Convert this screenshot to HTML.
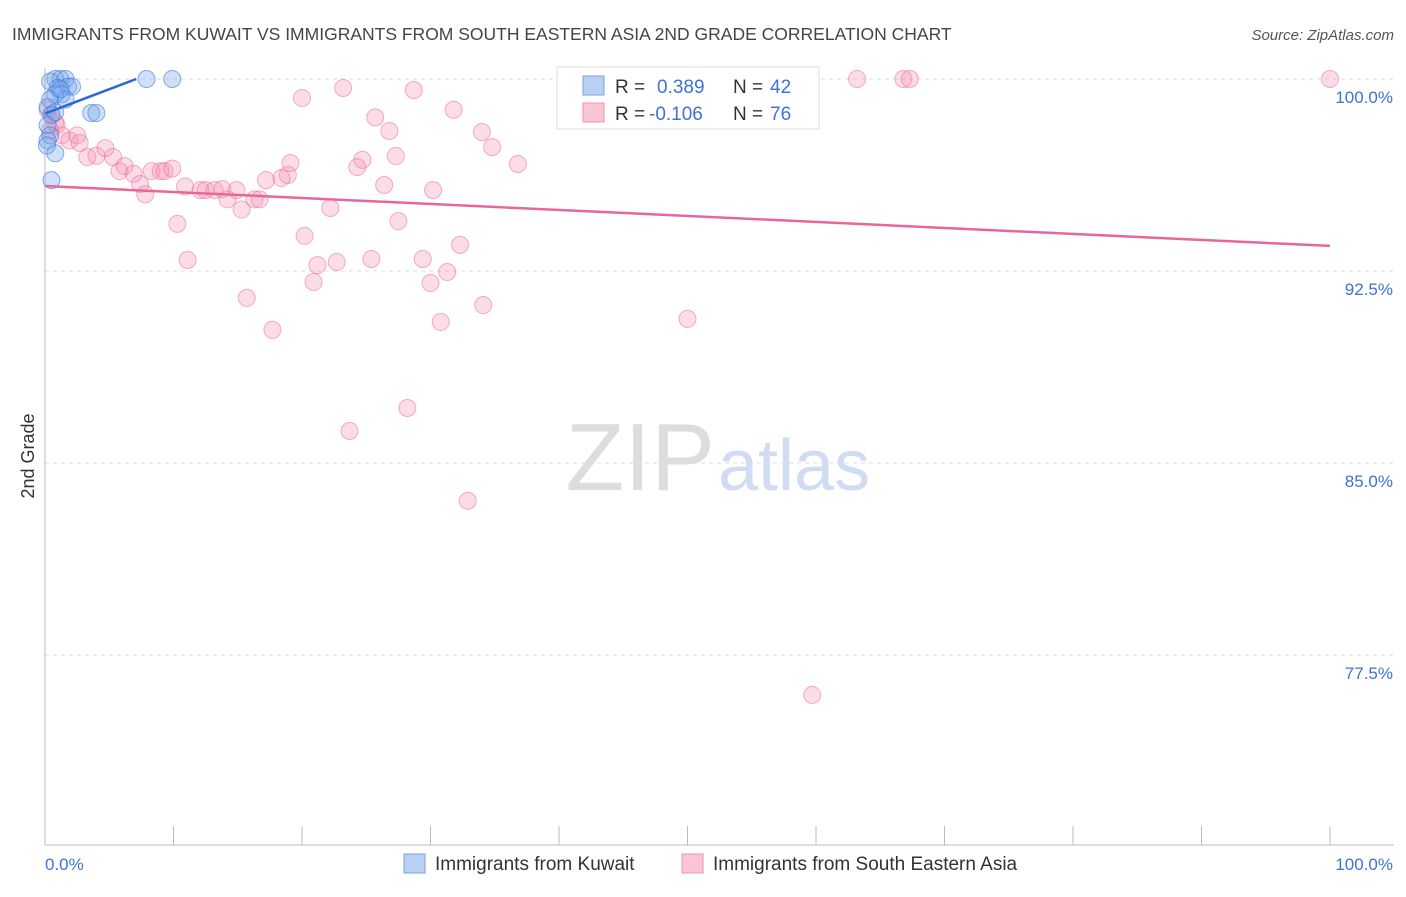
<!DOCTYPE html>
<html><head><meta charset="utf-8"><style>
body{margin:0;background:#fff;font-family:"Liberation Sans",sans-serif;}
svg text{font-family:"Liberation Sans",sans-serif;}
</style></head><body>
<svg id="chart" width="1406" height="892" xmlns="http://www.w3.org/2000/svg">
<text x="12" y="40" font-size="17.5" fill="#444">IMMIGRANTS FROM KUWAIT VS IMMIGRANTS FROM SOUTH EASTERN ASIA 2ND GRADE CORRELATION CHART</text>
<text x="1394" y="40" font-size="15" fill="#555" text-anchor="end" font-style="italic">Source: ZipAtlas.com</text>
<text x="715" y="490" font-size="96" fill="#ddd" text-anchor="end" font-family="Liberation Serif">ZIP</text>
<text x="718" y="490" font-size="72" fill="#cfdcf3">atlas</text>
<text transform="translate(34,456) rotate(-90)" font-size="18" fill="#333" text-anchor="middle">2nd Grade</text>
<g id="grid"></g><g id="pts"></g><g id="lines"></g>
<g>
<rect x="557" y="67" width="262" height="62" fill="#fff" stroke="#ddd"/>
<rect x="583" y="76" width="21" height="19" fill="#b9d0f3" stroke="#7aa3e5"/>
<rect x="583" y="103" width="21" height="19" fill="#fac6d4" stroke="#f094b0"/>
<text x="615" y="93" font-size="19" fill="#333">R =</text><text x="657" y="93" font-size="19" fill="#3d73d6">0.389</text>
<text x="733" y="93" font-size="19" fill="#333">N =</text><text x="770" y="93" font-size="19" fill="#3d73d6">42</text>
<text x="615" y="120" font-size="19" fill="#333">R =</text><text x="649" y="120" font-size="19" fill="#3d73d6">-0.106</text>
<text x="733" y="120" font-size="19" fill="#333">N =</text><text x="770" y="120" font-size="19" fill="#3d73d6">76</text>
</g>
<g>
<rect x="404" y="854" width="21" height="19" fill="#b9d0f3" stroke="#7aa3e5"/>
<text x="435" y="870" font-size="19" fill="#333">Immigrants from Kuwait</text>
<rect x="682" y="854" width="21" height="19" fill="#fac6d4" stroke="#f094b0"/>
<text x="713" y="870" font-size="19" fill="#333">Immigrants from South Eastern Asia</text>
</g>
</svg>
<script>
const yTicks=[100,92.5,85,77.5];
const yTickLabels=["100.0%","92.5%","85.0%","77.5%"];
const xTickLabels=["0.0%","100.0%"];
const blueX=[7.9,9.9,3.6,4.0,0.8,1.2,1.6,0.4,1.0,1.8,2.1,1.3,0.8,0.4,1.6,0.2,0.5,0.2,0.4,0.2,0.8,0.5,0.15,1.2,0.8];
const blueY=[100,100,98.67,98.67,100,100,100,99.9,99.65,99.7,99.7,99.4,99.4,99.2,99.2,98.9,98.6,98.2,97.8,97.6,97.1,96.05,97.4,99.6,98.7];
const pinkX=[100,63.2,66.8,67.3,23.2,20.0,28.7,31.8,25.7,26.8,34.0,34.8,36.8,27.3,24.7,24.3,19.1,18.9,18.4,17.2,26.4,30.2,22.2,27.5,32.3,10.3,20.2,11.1,21.2,22.7,25.4,29.4,31.3,20.9,30.0,15.7,34.1,30.8,17.7,50.0,28.2,23.7,32.9,59.7,0.5,0.9,1.3,1.9,2.5,2.7,3.3,4.0,4.7,5.3,5.8,6.2,6.9,7.4,7.8,8.3,9.0,9.3,9.9,10.9,12.1,12.5,13.2,13.8,14.2,14.9,15.3,16.3,16.7,0.2,0.4,0.8];
const pinkY=[100,100,100,100,99.65,99.26,99.57,98.8,98.5,97.97,97.93,97.34,96.68,96.99,96.84,96.56,96.72,96.25,96.13,96.05,95.86,95.66,94.96,94.45,93.52,94.34,93.87,92.93,92.73,92.85,92.97,92.97,92.46,92.07,92.03,91.45,91.17,90.51,90.2,90.63,87.15,86.25,83.52,75.94,98.6,98.2,97.8,97.6,97.8,97.5,96.95,97.0,97.3,96.95,96.4,96.6,96.3,95.9,95.5,96.4,96.4,96.4,96.5,95.8,95.66,95.66,95.66,95.7,95.3,95.66,94.9,95.3,95.3,98.8,98.0,98.3];
const blueTrend=[[0,98.65],[7.1,100]];
const pinkTrend=[[0,95.82],[100,93.48]];
const NS="http://www.w3.org/2000/svg";
const sx=v=>45+v*12.85, sy=v=>79+(100-v)*25.6;
function mk(tag,attrs,parent){const e=document.createElementNS(NS,tag);for(const k in attrs)e.setAttribute(k,attrs[k]);document.getElementById(parent).appendChild(e);return e;}
yTicks.forEach((t,i)=>{
 const l=mk('line',{x1:45,x2:1394,y1:sy(t),y2:sy(t),stroke:'#ddd','stroke-dasharray':'4,4'},'grid');
 
 
 const tx=mk('text',{x:1393,y:sy(t)+24,'font-size':17,fill:'#3d73d6','text-anchor':'end'},'grid');
 tx.textContent=yTickLabels[i];
 
 
});
const ax=mk('line',{x1:45,x2:45,y1:68,y2:845,stroke:'#bbb'},'grid');


const bx=mk('line',{x1:45,x2:1394,y1:845,y2:845,stroke:'#bbb'},'grid');


for(let i=0;i<=10;i++){const t=mk('line',{x1:sx(i*10),x2:sx(i*10),y1:826,y2:845,stroke:'#bbb'},'grid');
 
 }
[[0,'start'],[100,'end']].forEach((p,i)=>{const t=mk('text',{x:i?1393:45,y:870,'font-size':17,fill:'#3d73d6','text-anchor':p[1]},'grid');t.textContent=xTickLabels[i];
 
 });
pinkX.forEach((x,i)=>{const c=mk('circle',{cx:sx(x),cy:sy(pinkY[i]),r:8.5,fill:'rgba(244,143,177,0.3)',stroke:'rgba(236,110,150,0.55)','stroke-width':1},'pts');
 
 });
blueX.forEach((x,i)=>{const c=mk('circle',{cx:sx(x),cy:sy(blueY[i]),r:8.5,fill:'rgba(120,165,235,0.35)',stroke:'rgba(60,120,220,0.6)','stroke-width':1},'pts');
 
 });
const bl=mk('line',{x1:sx(blueTrend[0][0]),y1:sy(blueTrend[0][1]),x2:sx(blueTrend[1][0]),y2:sy(blueTrend[1][1]),stroke:'#2a6ad6','stroke-width':2.5},'lines');


const pl=mk('line',{x1:sx(pinkTrend[0][0]),y1:sy(pinkTrend[0][1]),x2:sx(pinkTrend[1][0]),y2:sy(pinkTrend[1][1]),stroke:'#e8679a','stroke-width':2.5},'lines');


</script>
</body></html>
